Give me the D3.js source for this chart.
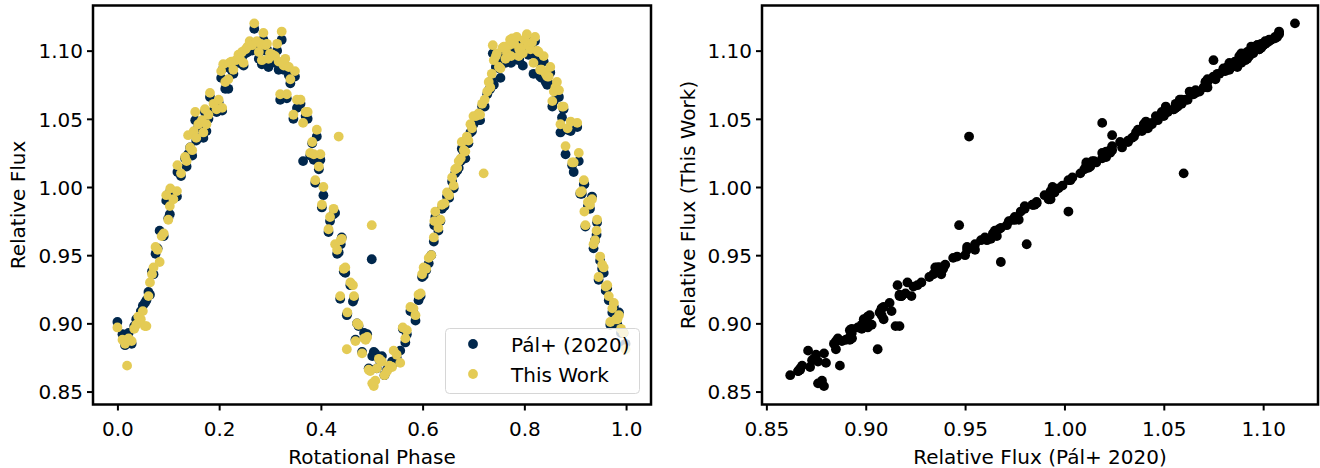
<!DOCTYPE html>
<html>
<head>
<meta charset="utf-8">
<script src="https://cdn.jsdelivr.net/npm/d3@7"></script>
<style>
    body { margin: 0; background: white; }
    svg { display: block; font-family: 'DejaVu Sans', sans-serif; }
    .tick text { font-size: 20px; fill: black; }
    .axis-label { font-size: 20px; fill: black; }
</style>
</head>
<body>
<script>
// data: rotational phase, Pal+ (2020) flux, this work flux (one entry per observation)
const phase = [
    0.000, 0.010, 0.015, 0.019, 0.022, 0.028, 0.033, 0.037, 0.041, 0.046,
    0.050, 0.054, 0.057, 0.061, 0.064, 0.068, 0.071, 0.075, 0.079, 0.083,
    0.087, 0.091, 0.096, 0.100, 0.103, 0.104, 0.110, 0.117, 0.118, 0.125,
    0.133, 0.136, 0.139, 0.143, 0.147, 0.150, 0.153, 0.155, 0.159, 0.166,
    0.169, 0.172, 0.175, 0.179, 0.182, 0.189, 0.195, 0.199, 0.204, 0.206,
    0.208, 0.212, 0.218, 0.220, 0.224, 0.228, 0.233, 0.238, 0.241, 0.245,
    0.248, 0.252, 0.256, 0.260, 0.265, 0.269, 0.274, 0.278, 0.282, 0.284,
    0.287, 0.291, 0.294, 0.297, 0.300, 0.305, 0.310, 0.314, 0.317, 0.320,
    0.323, 0.327, 0.330, 0.333, 0.337, 0.340, 0.346, 0.349, 0.353, 0.360,
    0.365, 0.370, 0.374, 0.379, 0.383, 0.386, 0.389, 0.392, 0.396, 0.399,
    0.402, 0.405, 0.415, 0.418, 0.425, 0.428, 0.432, 0.435, 0.438, 0.439,
    0.441, 0.445, 0.448, 0.451, 0.452, 0.458, 0.463, 0.465, 0.468, 0.471,
    0.474, 0.481, 0.485, 0.488, 0.491, 0.494, 0.497, 0.500, 0.501, 0.504,
    0.507, 0.510, 0.514, 0.517, 0.520, 0.525, 0.530, 0.535, 0.540, 0.543,
    0.549, 0.556, 0.561, 0.566, 0.569, 0.576, 0.582, 0.586, 0.592, 0.596,
    0.599, 0.602, 0.607, 0.612, 0.617, 0.622, 0.623, 0.625, 0.631, 0.635,
    0.638, 0.643, 0.648, 0.652, 0.658, 0.661, 0.664, 0.668, 0.671, 0.675,
    0.677, 0.681, 0.684, 0.687, 0.690, 0.694, 0.697, 0.700, 0.705, 0.710,
    0.713, 0.717, 0.720, 0.722, 0.727, 0.730, 0.733, 0.736, 0.738, 0.740,
    0.744, 0.746, 0.750, 0.753, 0.757, 0.760, 0.763, 0.766, 0.770, 0.772,
    0.774, 0.776, 0.780, 0.785, 0.789, 0.790, 0.793, 0.797, 0.800, 0.805,
    0.808, 0.812, 0.815, 0.818, 0.821, 0.825, 0.828, 0.831, 0.834, 0.838,
    0.842, 0.845, 0.848, 0.851, 0.855, 0.858, 0.861, 0.864, 0.868, 0.871,
    0.874, 0.877, 0.881, 0.885, 0.891, 0.894, 0.897, 0.904, 0.907, 0.910,
    0.913, 0.917, 0.918, 0.920, 0.925, 0.929, 0.933, 0.936, 0.939, 0.942,
    0.943, 0.946, 0.949, 0.953, 0.956, 0.960, 0.963, 0.966, 0.969, 0.973,
    0.976, 0.980, 0.983, 0.986, 0.990, 0.995, 0.999
]
const palFlux = [
    0.901, 0.892, 0.884, 0.887, 0.893, 0.885, 0.898, 0.903, 0.901, 0.909,
    0.913, 0.915, 0.917, 0.923, 0.921, 0.938, 0.936, 0.951, 0.955, 0.968,
    0.966, 0.964, 0.990, 0.977, 0.980, 0.997, 0.992, 0.993, 1.011, 1.008,
    1.021, 1.015, 1.024, 1.029, 1.023, 1.039, 1.049, 1.034, 1.044, 1.047,
    1.036, 1.055, 1.041, 1.050, 1.066, 1.056, 1.055, 1.062, 1.080, 1.056,
    1.087, 1.072, 1.072, 1.088, 1.086, 1.083, 1.091, 1.091, 1.092, 1.095,
    1.089, 1.098, 1.099, 1.101, 1.100, 1.116, 1.103, 1.094, 1.101, 1.090,
    1.108, 1.100, 1.101, 1.088, 1.094, 1.092, 1.091, 1.100, 1.086, 1.064,
    1.108, 1.086, 1.089, 1.065, 1.082, 1.076, 1.050, 1.081, 1.058, 1.061,
    1.019, 1.052, 1.050, 1.023, 1.032, 1.020, 1.003, 1.037, 1.013, 1.020,
    0.985, 0.994, 0.967, 0.975, 0.980, 0.981, 0.951, 0.952, 0.918, 0.958,
    0.963, 0.938, 0.937, 0.906, 0.907, 0.928, 0.916, 0.918, 0.888, 0.900,
    0.898, 0.879, 0.893, 0.890, 0.892, 0.867, 0.866, 0.947, 0.876, 0.879,
    0.878, 0.867, 0.874, 0.873, 0.876, 0.862, 0.866, 0.868, 0.872, 0.871,
    0.875, 0.880, 0.896, 0.886, 0.892, 0.909, 0.908, 0.902, 0.917, 0.920,
    0.934, 0.935, 0.939, 0.944, 0.950, 0.960, 0.972, 0.978, 0.968, 0.975,
    0.984, 0.986, 0.993, 0.992, 1.004, 0.999, 1.010, 1.012, 1.014, 1.019,
    1.028, 1.024, 1.021, 1.035, 1.032, 1.040, 1.041, 1.046, 1.050, 1.049,
    1.049, 1.059, 1.060, 1.059, 1.068, 1.071, 1.072, 1.078, 1.098, 1.075,
    1.088, 1.094, 1.087, 1.080, 1.098, 1.094, 1.091, 1.095, 1.097, 1.103,
    1.091, 1.106, 1.099, 1.106, 1.093, 1.094, 1.099, 1.089, 1.104, 1.108,
    1.097, 1.098, 1.102, 1.083, 1.107, 1.095, 1.092, 1.081, 1.080, 1.092,
    1.077, 1.075, 1.076, 1.084, 1.059, 1.063, 1.070, 1.071, 1.066, 1.040,
    1.051, 1.057, 1.024, 1.042, 1.041, 1.016, 1.011, 1.044, 1.019, 0.995,
    0.995, 1.002, 1.002, 0.971, 0.986, 0.984, 0.993, 0.955, 0.961, 0.965,
    0.974, 0.932, 0.946, 0.940, 0.937, 0.924, 0.926, 0.917, 0.899, 0.908,
    0.912, 0.900, 0.899, 0.908, 0.893, 0.893, 0.885
]
const thisFlux = [
    0.897, 0.888, 0.885, 0.869, 0.889, 0.887, 0.896, 0.899, 0.905, 0.903,
    0.909, 0.898, 0.898, 0.920, 0.930, 0.936, 0.941, 0.956, 0.954, 0.945,
    0.964, 0.966, 0.994, 0.976, 0.986, 0.999, 0.991, 0.997, 1.016, 1.010,
    1.022, 1.019, 1.038, 1.029, 1.027, 1.041, 1.055, 1.036, 1.046, 1.049,
    1.040, 1.057, 1.046, 1.053, 1.069, 1.061, 1.057, 1.064, 1.085, 1.058,
    1.090, 1.077, 1.079, 1.091, 1.092, 1.086, 1.093, 1.097, 1.094, 1.099,
    1.091, 1.101, 1.103, 1.107, 1.104, 1.120, 1.107, 1.099, 1.105, 1.093,
    1.113, 1.104, 1.105, 1.094, 1.098, 1.097, 1.096, 1.105, 1.092, 1.068,
    1.114, 1.089, 1.094, 1.068, 1.088, 1.079, 1.053, 1.085, 1.064, 1.064,
    1.047, 1.055, 1.055, 1.025, 1.033, 1.024, 1.005, 1.042, 1.015, 1.024,
    0.987, 1.000, 0.969, 0.978, 0.984, 0.958, 0.954, 1.037, 0.920, 0.961,
    0.962, 0.940, 0.941, 0.881, 0.908, 0.930, 0.928, 0.920, 0.887, 0.900,
    0.899, 0.878, 0.889, 0.888, 0.890, 0.866, 0.865, 0.972, 0.856, 0.854,
    0.858, 0.867, 0.874, 0.873, 0.872, 0.862, 0.865, 0.869, 0.868, 0.880,
    0.877, 0.871, 0.897, 0.889, 0.895, 0.912, 0.911, 0.906, 0.921, 0.922,
    0.936, 0.941, 0.940, 0.948, 0.950, 0.963, 0.975, 0.982, 0.970, 0.976,
    0.987, 0.988, 0.996, 0.994, 1.007, 1.001, 1.013, 1.014, 1.019, 1.021,
    1.033, 1.027, 1.026, 1.037, 1.034, 1.046, 1.043, 1.052, 1.052, 1.054,
    1.053, 1.061, 1.010, 1.064, 1.070, 1.077, 1.073, 1.083, 1.104, 1.093,
    1.096, 1.098, 1.088, 1.087, 1.102, 1.103, 1.094, 1.098, 1.104, 1.108,
    1.096, 1.109, 1.105, 1.110, 1.096, 1.101, 1.102, 1.098, 1.108, 1.112,
    1.104, 1.101, 1.106, 1.091, 1.110, 1.100, 1.099, 1.086, 1.086, 1.096,
    1.083, 1.081, 1.081, 1.088, 1.063, 1.070, 1.073, 1.077, 1.071, 1.046,
    1.059, 1.059, 1.030, 1.043, 1.048, 1.018, 1.018, 1.047, 1.025, 0.996,
    0.997, 1.005, 0.982, 0.972, 0.989, 0.987, 0.991, 0.958, 0.961, 0.968,
    0.976, 0.934, 0.949, 0.943, 0.941, 0.927, 0.928, 0.920, 0.901, 0.911,
    0.915, 0.903, 0.903, 0.906, 0.896, 0.893, 0.881
]

const fluxTicks = [0.85, 0.90, 0.95, 1.00, 1.05, 1.10]
const phaseTicks = [0.0, 0.2, 0.4, 0.6, 0.8, 1.0]
const seriesNames = ['Pál+ (2020)', 'This Work']
const seriesColors = ['#00274c', '#e4cb55']

const width = 1320
const height = 468
const radius = 4.9

const svg = d3.select('body').append('svg')
    .attr('width', width)
    .attr('height', height)

// panel frames
const left = {x0: 93, x1: 651, y0: 5.5, y1: 404.5}
const right = {x0: 762, x1: 1318, y0: 5.5, y1: 404.5}

// scales
const phaseScale = d3.scaleLinear()
    .domain([-0.048, 1.049])
    .range([left.x0, left.x1])
const fluxScaleL = d3.scaleLinear()
    .domain([0.8405, 1.1331])
    .range([left.y1, left.y0])
const palScale = d3.scaleLinear()
    .domain([0.8478, 1.1276])
    .range([right.x0, right.x1])
const fluxScaleR = d3.scaleLinear()
    .domain([0.8405, 1.1331])
    .range([right.y1, right.y0])

const rows = phase.map((p, i) => ({phase: p, pal: palFlux[i], mine: thisFlux[i]}))

// left panel: light curves
svg.append('g').selectAll('circle')
    .data(rows)
    .join('circle')
    .attr('cx', d => phaseScale(d.phase))
    .attr('cy', d => fluxScaleL(d.pal))
    .attr('r', radius)
    .attr('fill', seriesColors[0])

svg.append('g').selectAll('circle')
    .data(rows)
    .join('circle')
    .attr('cx', d => phaseScale(d.phase))
    .attr('cy', d => fluxScaleL(d.mine))
    .attr('r', radius)
    .attr('fill', seriesColors[1])

// right panel: flux vs flux
svg.append('g').selectAll('circle')
    .data(rows)
    .join('circle')
    .attr('cx', d => palScale(d.pal))
    .attr('cy', d => fluxScaleR(d.mine))
    .attr('r', radius)
    .attr('fill', 'black')

// axes
function styleAxis(g) {
    g.select('.domain').remove()
    g.selectAll('.tick line').attr('stroke', 'black').attr('stroke-width', 2)
    g.selectAll('.tick text').attr('font-family', 'DejaVu Sans')
}

svg.append('g')
    .attr('transform', `translate(0,${left.y1})`)
    .call(d3.axisBottom(phaseScale).tickValues(phaseTicks).tickFormat(d3.format('.1f'))
        .tickSize(6).tickPadding(11))
    .call(styleAxis)
svg.append('g')
    .attr('transform', `translate(${left.x0},0)`)
    .call(d3.axisLeft(fluxScaleL).tickValues(fluxTicks).tickFormat(d3.format('.2f'))
        .tickSize(6).tickPadding(4))
    .call(styleAxis)
    .selectAll('.tick text').attr('dy', '0.36em')

svg.append('g')
    .attr('transform', `translate(0,${right.y1})`)
    .call(d3.axisBottom(palScale).tickValues(fluxTicks).tickFormat(d3.format('.2f'))
        .tickSize(6).tickPadding(11))
    .call(styleAxis)
svg.append('g')
    .attr('transform', `translate(${right.x0},0)`)
    .call(d3.axisLeft(fluxScaleR).tickValues(fluxTicks).tickFormat(d3.format('.2f'))
        .tickSize(6).tickPadding(4))
    .call(styleAxis)
    .selectAll('.tick text').attr('dy', '0.36em')

// legend
const legend = svg.append('g')
legend.append('rect')
    .attr('x', 445.5)
    .attr('y', 328.5)
    .attr('width', 194)
    .attr('height', 65)
    .attr('rx', 4)
    .attr('fill', 'white')
    .attr('fill-opacity', 0.8)
    .attr('stroke', '#d6d6d6')
    .attr('stroke-width', 1)
seriesNames.forEach((name, i) => {
    legend.append('circle')
        .attr('cx', 473)
        .attr('cy', 344 + i * 30)
        .attr('r', radius)
        .attr('fill', seriesColors[i])
    legend.append('text')
        .attr('class', 'axis-label')
        .attr('x', 511)
        .attr('y', 351.5 + i * 30)
        .text(name)
})

// frames
for (let f of [left, right]) {
    svg.append('rect')
        .attr('x', f.x0)
        .attr('y', f.y0)
        .attr('width', f.x1 - f.x0)
        .attr('height', f.y1 - f.y0)
        .attr('fill', 'none')
        .attr('stroke', 'black')
        .attr('stroke-width', 2.5)
}

// axis labels
svg.append('text')
    .attr('class', 'axis-label')
    .attr('x', (left.x0 + left.x1) / 2)
    .attr('y', 464)
    .attr('text-anchor', 'middle')
    .text('Rotational Phase')
svg.append('text')
    .attr('class', 'axis-label')
    .attr('text-anchor', 'middle')
    .attr('transform', `translate(25,${(left.y0 + left.y1) / 2}) rotate(-90)`)
    .text('Relative Flux')
svg.append('text')
    .attr('class', 'axis-label')
    .attr('x', (right.x0 + right.x1) / 2)
    .attr('y', 464)
    .attr('text-anchor', 'middle')
    .text('Relative Flux (Pál+ 2020)')
svg.append('text')
    .attr('class', 'axis-label')
    .attr('text-anchor', 'middle')
    .attr('transform', `translate(695,${(right.y0 + right.y1) / 2}) rotate(-90)`)
    .text('Relative Flux (This Work)')
</script>
</body>
</html>
